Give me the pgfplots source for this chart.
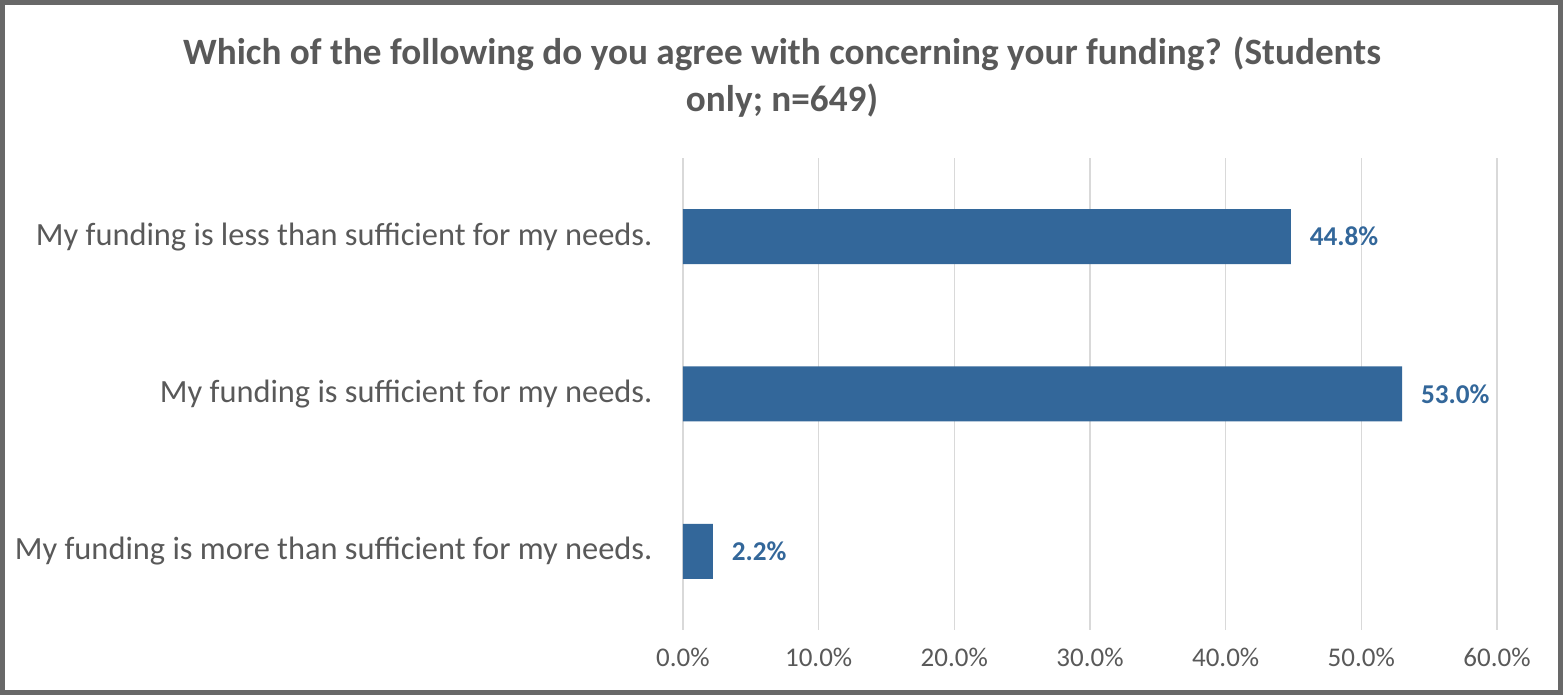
\documentclass[border=0pt]{standalone}
\usepackage{pgfplots}
\pgfplotsset{compat=1.18}
\usepackage{fontspec}
\setmainfont{Carlito}
\definecolor{barblue}{HTML}{33679A}
\definecolor{txtgray}{HTML}{595959}
\definecolor{gridgray}{HTML}{D9D9D9}
\definecolor{framegray}{HTML}{686868}
\begin{document}
\begin{tikzpicture}[x=1pt,y=1pt]
\begin{axis}[
  scale only axis, width=407pt, height=236pt,
  xbar, bar width=27.5pt,
  xmin=0, xmax=60,
  ymin=-0.5, ymax=2.5,
  xtick={0,10,...,60},
  ytick={0,1,2},
  yticklabels={My funding is more than sufficient for my needs.,My funding is sufficient for my needs.,My funding is less than sufficient for my needs.},
  xmajorgrids, grid style={gridgray, line width=0.75pt},
  axis line style={draw=none},
  major tick style={draw=none},
  /pgf/number format/assume math mode=true,
  xticklabel={\pgfmathprintnumber[fixed,fixed zerofill,precision=1]{\tick}\%},
  xticklabel style={text=txtgray, font=\fontsize{13.5}{16}\selectfont, yshift=-5.5pt},
  yticklabel style={text=txtgray, font=\fontsize{16.2}{19}\selectfont, xshift=-7.5pt},
  point meta=x,
  nodes near coords={\pgfmathprintnumber[fixed,fixed zerofill,precision=1,assume math mode=true]{\pgfplotspointmeta}\%},
  nodes near coords style={text=barblue, font=\bfseries\fontsize{13.6}{16}\selectfont, anchor=west, xshift=6pt},
]
\addplot[fill=barblue, draw=none] coordinates {(2.2,0) (53.0,1) (44.8,2)};
\end{axis}
\draw[framegray, line width=2.6pt] (-340.2,-31.2) rectangle (438.7,313.7);
\node[text=txtgray, font=\bfseries\fontsize{18.6}{23.5}\selectfont, align=center] at (49.5,276.5)
  {Which of the following do you agree with concerning your funding? (Students\\only; n=649)};
\end{tikzpicture}
\end{document}
